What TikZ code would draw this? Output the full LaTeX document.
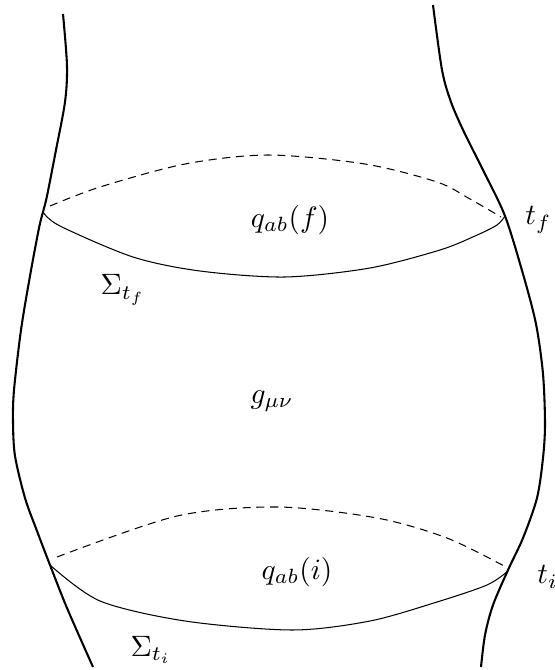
\documentclass[tikz,border=0pt]{standalone}
\usepackage{amsmath,amssymb}
\usepackage{graphicx}
\usetikzlibrary{positioning}
\newcommand{\tubelab}[1]{\scalebox{1.28}{$#1$}}
\tikzset{
  boundary/.style={draw, line width=0.9pt},
  slice/.style={draw, line width=0.45pt},
  back slice/.style={slice, dashed, dash pattern=on 3.5pt off 2.5pt},
  label/.style={inner sep=0pt},
}

\begin{document}
\begin{tikzpicture}[x=0.435pt, y=-0.435pt]
  \useasboundingbox (0,0) rectangle (555,670);

  % world tube
  \draw[boundary] plot[smooth] coordinates {(63,14) (67,66) (65,102) (56,150) (47,196) (43,212) (39,228) (30,276) (21,330) (14,390) (13,422) (15,456) (25,498) (37,531) (50,565) (67,608) (93,667)};
  \draw[boundary] plot[smooth] coordinates {(433,5) (442,70) (451,102) (464,132) (483,170) (505,216) (523,274) (536,324) (543,374) (545,424) (543,458) (537,498) (523,538) (508,570) (493,605) (485,635) (481,667)};

  % final slice
  \draw[back slice] plot[smooth] coordinates {(50,206) (100,187) (185,164) (268,155) (365,164) (437,182) (470,199) (501,217)};
  \draw[slice] plot[smooth] coordinates {(43,212) (60,226) (133,257) (200,271) (285,277) (370,268) (440,250) (475,236) (497,225) (505,216)};

  % initial slice
  \draw[back slice] plot[smooth] coordinates {(57,557) (177,516) (278,507) (377,518) (447,538) (506,567)};
  \draw[slice] plot[smooth] coordinates {(50,565) (100,601) (185,621) (292,630) (370,621) (437,602) (487,585) (508,571)};

  \node[label] (qf) at (290,220) {\tubelab{q_{ab}(f)}};
  \node[label, anchor=west] (tf) at (525,220) {\tubelab{t_f}};
  \node[label] (Sf) at (123,290) {\tubelab{\Sigma_{t_f}}};
  \node[label] (g) at (272,401) {\tubelab{g_{\mu\nu}}};
  \node[label] (qi) at (297,572) {\tubelab{q_{ab}(i)}};
  \node[label, anchor=west] (ti) at (537,577) {\tubelab{t_i}};
  \node[label] (Si) at (151,650) {\tubelab{\Sigma_{t_i}}};
\end{tikzpicture}
\end{document}
